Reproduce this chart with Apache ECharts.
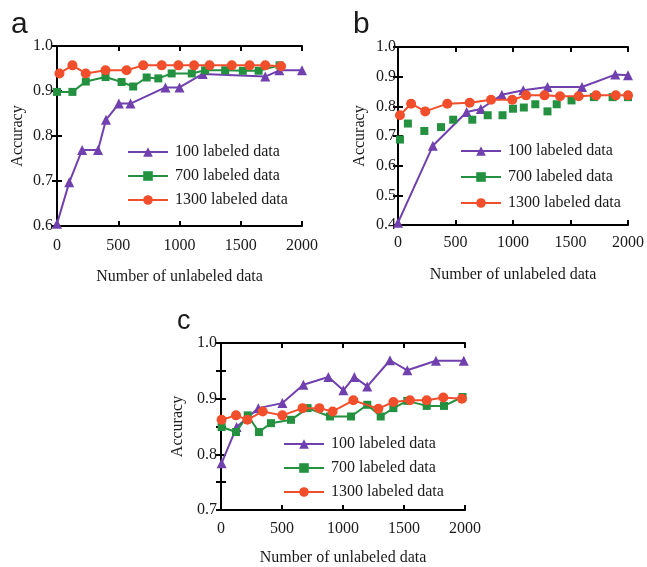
<!DOCTYPE html>
<html>
<head>
<meta charset="utf-8">
<script src="https://cdn.jsdelivr.net/npm/echarts@6/dist/echarts.min.js"></script>
<style>
  html, body { margin: 0; padding: 0; background: #fff; }
  #main { width: 647px; height: 567px; }
</style>
</head>
<body>
<div id="main"></div>
<script>
// legend texts
var labels = ["100 labeled data", "700 labeled data", "1300 labeled data"];

// panel a  [unlabeled, accuracy]
var a100 = [[0,0.605],[100,0.697],[205,0.769],[335,0.769],[400,0.836],[505,0.872],[600,0.872],[885,0.908],[1000,0.908],[1190,0.938],[1700,0.932],[1815,0.946],[2000,0.946]];
var a700 = [[0,0.898],[126,0.898],[235,0.921],[396,0.931],[527,0.920],[622,0.910],[732,0.930],[827,0.928],[936,0.939],[1100,0.939],[1209,0.946],[1373,0.946],[1517,0.945],[1646,0.945],[1817,0.957]];
var a1300 = [[20,0.939],[126,0.957],[235,0.939],[396,0.946],[568,0.946],[704,0.957],[855,0.957],[991,0.957],[1119,0.957],[1245,0.957],[1427,0.957],[1572,0.957],[1700,0.957],[1829,0.955]];

// panel b
var b100 = [[0,0.408],[303,0.667],[597,0.781],[720,0.791],[903,0.839],[1089,0.854],[1300,0.865],[1600,0.865],[1889,0.907],[2000,0.905]];
var b700 = [[17,0.688],[86,0.742],[229,0.717],[374,0.730],[480,0.755],[646,0.755],[780,0.770],[909,0.770],[1000,0.792],[1094,0.796],[1194,0.807],[1300,0.783],[1380,0.807],[1509,0.820],[1703,0.831],[1866,0.831],[2000,0.831]];
var b1300 = [[17,0.770],[114,0.809],[237,0.783],[429,0.809],[623,0.812],[809,0.822],[994,0.822],[1114,0.837],[1274,0.837],[1409,0.834],[1571,0.834],[1723,0.837],[1894,0.837],[2000,0.837]];

// panel c
var c100 = [[5,0.784],[128,0.849],[306,0.883],[503,0.892],[675,0.925],[880,0.939],[1003,0.915],[1093,0.939],[1199,0.922],[1385,0.969],[1527,0.951],[1762,0.968],[1990,0.968]];
var c700 = [[5,0.849],[123,0.840],[219,0.870],[311,0.840],[410,0.856],[574,0.862],[710,0.883],[893,0.868],[1066,0.868],[1199,0.889],[1309,0.868],[1413,0.883],[1527,0.896],[1686,0.887],[1828,0.887],[1980,0.903]];
var c1300 = [[5,0.862],[123,0.870],[216,0.862],[342,0.877],[503,0.870],[669,0.883],[806,0.883],[915,0.877],[1085,0.897],[1290,0.882],[1413,0.894],[1549,0.897],[1686,0.897],[1822,0.902],[1975,0.900]];

var colors = ["#7040ae", "#23913f", "#f14e2c"];
var symbols = ["triangle", "rect", "circle"];
var symbolSizes = [10, 8, 10];
var serif = "Liberation Serif";
var ink = "#1a1a1a";

var myChart = echarts.init(document.getElementById("main"));

var panels = [
  { key: "a", grid: { left: 57, top: 46, width: 245, height: 180 }, ymin: 0.6, yint: 0.1, data: [a100, a700, a1300],
    xGap: 43, yGap: 31, xMargin: 12, yMargin: 4, legend: { left: 127, top: 144, itemGap: 8 } },
  { key: "b", grid: { left: 398, top: 47, width: 234, height: 178 }, ymin: 0.4, yint: 0.1, data: [b100, b700, b1300],
    xGap: 42, yGap: 30, xMargin: 10, yMargin: 2, legend: { left: 460, top: 143, itemGap: 10 }, noLine: 1 },
  { key: "c", grid: { left: 221, top: 343, width: 244, height: 167 }, ymin: 0.7, yint: 0.05, data: [c100, c700, c1300],
    xGap: 40, yGap: 35, xMargin: 11, yMargin: 4, legend: { left: 283, top: 436, itemGap: 8 } }
];

var option = {
  backgroundColor: "#fff",
  animation: false,
  title: [
    { text: "a", left: 6, top: 5, textStyle: { fontFamily: "Liberation Sans", fontSize: 30, fontWeight: "normal", color: ink } },
    { text: "b", left: 348, top: 5, textStyle: { fontFamily: "Liberation Sans", fontSize: 30, fontWeight: "normal", color: ink } },
    { text: "c", left: 172, top: 303, textStyle: { fontFamily: "Liberation Sans", fontSize: 27, fontWeight: "normal", color: ink } }
  ],
  grid: [], xAxis: [], yAxis: [], legend: [], series: []
};

var axisLine = { show: true, lineStyle: { color: "#000", width: 2 } };
var tick = { show: true, inside: true, length: 5, lineStyle: { color: "#000", width: 2 } };

panels.forEach(function (p, gi) {
  option.grid.push(p.grid);
  // bottom and top x axes
  option.xAxis.push({
    type: "value", gridIndex: gi, min: 0, max: 2000, interval: 500, position: "bottom",
    name: "Number of unlabeled data", nameLocation: "middle", nameGap: p.xGap,
    nameTextStyle: { fontFamily: serif, fontSize: 16, color: ink },
    axisLine: axisLine, axisTick: tick, splitLine: { show: false },
    axisLabel: { margin: p.xMargin, fontFamily: serif, fontSize: 16, color: ink,
      formatter: function (v) { return String(v); } }
  });
  option.xAxis.push({
    type: "value", gridIndex: gi, min: 0, max: 2000, interval: 500, position: "top",
    axisLine: axisLine, axisTick: tick, splitLine: { show: false }, axisLabel: { show: false }
  });
  // left and right y axes
  option.yAxis.push({
    type: "value", gridIndex: gi, min: p.ymin, max: 1.0, interval: p.yint, position: "left",
    name: "Accuracy", nameLocation: "middle", nameGap: p.yGap, nameRotate: 90,
    nameTextStyle: { fontFamily: serif, fontSize: 16, color: ink },
    axisLine: axisLine, axisTick: tick, splitLine: { show: false },
    axisLabel: {
      margin: p.yMargin, fontFamily: serif, fontSize: 16, color: ink,
      formatter: function (v) {
        var t = Math.round(v * 100);
        return t % 10 === 0 ? (t / 100).toFixed(1) : "";
      }
    }
  });
  option.yAxis.push({
    type: "value", gridIndex: gi, min: p.ymin, max: 1.0, interval: p.yint, position: "right",
    axisLine: axisLine, axisTick: tick, splitLine: { show: false }, axisLabel: { show: false }
  });

  var legendData = [];
  p.data.forEach(function (d, si) {
    var name = p.key + ":" + labels[si];
    var hideLine = p.noLine && si === 1;
    option.series.push({
      name: name, type: "line", data: d,
      xAxisIndex: gi * 2, yAxisIndex: gi * 2,
      symbol: symbols[si], symbolSize: symbolSizes[si],
      lineStyle: { color: colors[si], width: 2, opacity: hideLine ? 0 : 1 },
      itemStyle: { color: colors[si] },
      z: 3 + si
    });
    legendData.push(hideLine ? { name: name, lineStyle: { opacity: 1 } } : name);
  });

  option.legend.push({
    data: legendData, orient: "vertical", left: p.legend.left, top: p.legend.top,
    itemWidth: 40, itemHeight: 12, itemGap: p.legend.itemGap, padding: 0,
    formatter: function (name) { return name.slice(2); },
    textStyle: { fontFamily: serif, fontSize: 16, color: ink, padding: [0, 0, 0, 2] }
  });
});

option && myChart.setOption(option);
</script>
</body>
</html>
